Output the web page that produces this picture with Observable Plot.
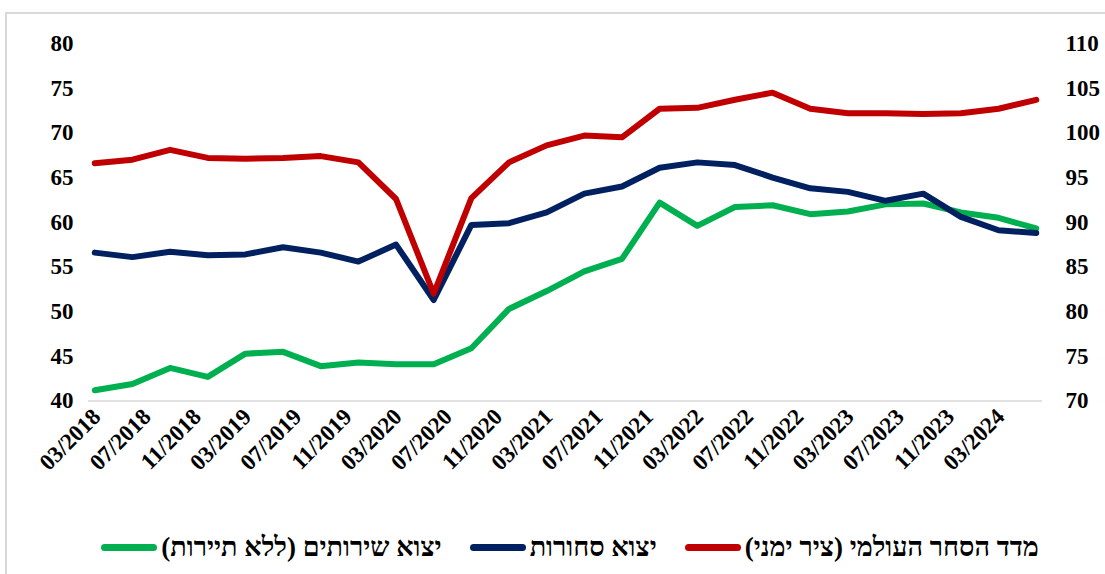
<!DOCTYPE html>
<html><head><meta charset="utf-8">
<script src="https://cdn.jsdelivr.net/npm/d3@7"></script>
<script src="https://cdn.jsdelivr.net/npm/@observablehq/plot@0.6"></script>
<style>
body{margin:0;background:#fff;overflow:hidden;}
#wrap{position:relative;width:1105px;height:574px;overflow:hidden;}
#frame{position:absolute;left:5px;top:12px;width:1120px;height:600px;border:2px solid #d9d9d9;box-sizing:border-box;}
#chart{position:absolute;left:0;top:0;}
#legend{position:absolute;top:520px;left:70px;width:1000px;height:54px;display:flex;direction:rtl;justify-content:center;align-items:center;gap:28px;font:bold 27px 'Liberation Serif','Times New Roman',serif;color:#000;}
.item{display:flex;align-items:center;gap:4px;white-space:nowrap;}
.sw{display:inline-block;width:56px;height:7px;border-radius:4px;}
</style></head><body>
<div id="wrap"><div id="frame"></div><div id="chart"></div><div id="legend"></div></div>
<script>
const quarters = ["03/2018","06/2018","09/2018","12/2018","03/2019","06/2019","09/2019","12/2019",
  "03/2020","06/2020","09/2020","12/2020","03/2021","06/2021","09/2021","12/2021",
  "03/2022","06/2022","09/2022","12/2022","03/2023","06/2023","09/2023","12/2023","03/2024","06/2024"];
const servicesExports = [41.2, 41.9, 43.7, 42.7, 45.3, 45.5, 43.9, 44.3, 44.1, 44.1, 45.9, 50.3, 52.3,
  54.5, 55.9, 62.2, 59.6, 61.7, 61.9, 60.9, 61.2, 62.0, 62.1, 61.1, 60.5, 59.3];
const goodsExports = [56.6, 56.1, 56.7, 56.3, 56.4, 57.2, 56.6, 55.6, 57.5, 51.3, 59.7, 59.9, 61.1,
  63.2, 64.0, 66.1, 66.7, 66.4, 65.0, 63.8, 63.4, 62.4, 63.2, 60.6, 59.1, 58.8];
const worldTradeIndex = [96.6, 97.0, 98.1, 97.2, 97.1, 97.2, 97.4, 96.7, 92.6, 82.0, 92.7, 96.7, 98.6,
  99.7, 99.5, 102.7, 102.8, 103.7, 104.5, 102.7, 102.2, 102.2, 102.1, 102.2, 102.7, 103.7];
const xTickLabels = ["03/2018","07/2018","11/2018","03/2019","07/2019","11/2019","03/2020","07/2020",
  "11/2020","03/2021","07/2021","11/2021","03/2022","07/2022","11/2022","03/2023","07/2023","11/2023","03/2024"];
const leftTicks = [40,45,50,55,60,65,70,75,80];
const rightTicks = [70,75,80,85,90,95,100,105,110];
const seriesNames = ["מדד הסחר העולמי (ציר ימני)", "יצוא סחורות", "יצוא שירותים (ללא תיירות)"];
const seriesColors = ["#C00000", "#002060", "#00B050"];

const RIGHT_SHIFT = rightTicks[0] - leftTicks[0]; // right axis = left axis + 30
const monthIndex = s => { const [mm, yy] = s.split("/").map(Number); return (yy - 2018) * 12 + (mm - 3); };
const toRows = (vals, shift) => quarters.map((q, i) => ({m: monthIndex(q), v: vals[i] - shift}));

const font = "'Liberation Serif','Times New Roman',serif";
const lineOpts = c => ({x: "m", y: "v", stroke: c, strokeWidth: 6, strokeLinejoin: "round", strokeLinecap: "round"});

const chart = Plot.plot({
  width: 1105, height: 520,
  marginLeft: 88, marginRight: 63, marginTop: 43, marginBottom: 119.5,
  style: {fontFamily: font, fontSize: "23px", fontWeight: "bold", color: "#000", background: "transparent", overflow: "visible"},
  x: {type: "linear", domain: [-0.5, 75.5], axis: null},
  y: {domain: [40, 80], axis: null},
  marks: [
    Plot.ruleY([40], {stroke: "#d9d9d9", strokeWidth: 1.5}),
    Plot.axisY({anchor: "left", label: null, ticks: leftTicks, tickSize: 0, tickPadding: 15, fontSize: 23, fontWeight: "bold"}),
    Plot.axisY({anchor: "right", label: null, ticks: rightTicks.map(t => t - RIGHT_SHIFT), tickFormat: d => String(d + RIGHT_SHIFT), tickSize: 0, tickPadding: 23, fontSize: 23, fontWeight: "bold", textAnchor: "start"}),
    Plot.text(xTickLabels, {x: d => monthIndex(d), frameAnchor: "bottom", text: d => d, rotate: -45, textAnchor: "end", lineAnchor: "middle", dx: 2, dy: 12, fontSize: 23, fontWeight: "bold", fill: "#000"}),
    Plot.line(toRows(servicesExports, 0), lineOpts(seriesColors[2])),
    Plot.line(toRows(goodsExports, 0), lineOpts(seriesColors[1])),
    Plot.line(toRows(worldTradeIndex, RIGHT_SHIFT), lineOpts(seriesColors[0]))
  ]
});
document.getElementById("chart").appendChild(chart);

const legend = document.getElementById("legend");
seriesNames.forEach((name, i) => {
  const item = document.createElement("div");
  item.className = "item";
  const t = document.createElement("span");
  t.textContent = name;
  const s = document.createElement("span");
  s.className = "sw";
  s.style.background = seriesColors[i];
  item.appendChild(t); item.appendChild(s);
  legend.appendChild(item);
});
</script>
</body></html>
